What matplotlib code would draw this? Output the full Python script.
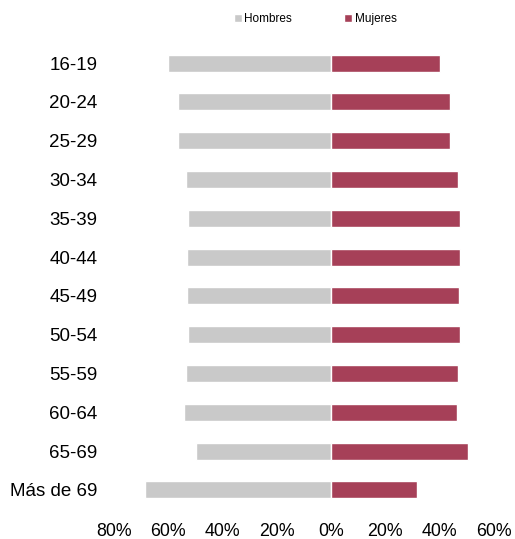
import matplotlib
matplotlib.use("Agg")
import matplotlib.pyplot as plt

plt.rcParams["font.family"] = ["Liberation Sans", "DejaVu Sans"]

# age groups and shares (%)
groups = ["16-19", "20-24", "25-29", "30-34", "35-39", "40-44",
          "45-49", "50-54", "55-59", "60-64", "65-69", "Más de 69"]
hombres = [60.0, 56.3, 56.3, 53.5, 52.5, 52.9, 52.9, 52.5, 53.4, 54.0, 49.5, 68.5]
mujeres = [40.0, 43.7, 43.7, 46.7, 47.4, 47.4, 47.0, 47.4, 46.7, 46.3, 50.4, 31.6]

xticks = [-80, -60, -40, -20, 0, 20, 40, 60]

gray = "#C9C9C9"
red = "#A64058"


def main() -> None:
    fig = plt.figure(figsize=(5.15, 5.39), dpi=100)
    ax = fig.add_axes([0.2206, 0.055, 0.7386, 0.864])

    pos = list(range(len(groups)))
    ax.barh(pos, [-v for v in hombres], height=0.44, color=gray,
            edgecolor="white", linewidth=1.0, label="Hombres")
    ax.barh(pos, mujeres, height=0.44, color=red,
            edgecolor="white", linewidth=1.0, label="Mujeres")

    ax.set_xlim(-80, 60)
    ax.set_ylim(len(groups) - 0.5, -0.5)
    ax.set_yticks(pos)
    ax.set_yticklabels(groups, fontsize=13.5)
    ax.set_xticks(xticks)
    ax.set_xticklabels([f"{abs(t)}%" for t in xticks], fontsize=12.8)
    ax.tick_params(axis="y", length=0, pad=11.5)
    ax.tick_params(axis="x", length=0, pad=10)
    for s in ax.spines.values():
        s.set_visible(False)

    fig.legend(loc="center", bbox_to_anchor=(0.612, 0.965), ncol=2,
               frameon=False, fontsize=8.5, handlelength=0.7,
               handleheight=0.7, handletextpad=0.2, columnspacing=4.4)

    fig.savefig("out.png", dpi=100)


if __name__ == "__main__":
    main()
